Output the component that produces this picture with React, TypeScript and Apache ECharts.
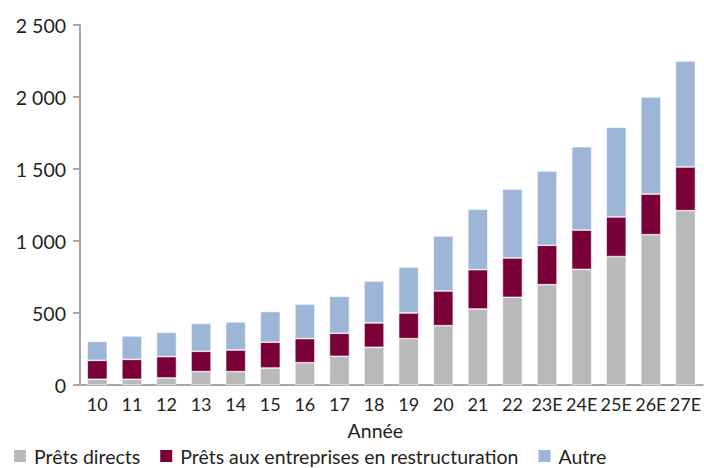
import React, { useEffect, useRef } from "react";
import * as echarts from "echarts";

const categories = ["10", "11", "12", "13", "14", "15", "16", "17", "18", "19", "20", "21", "22", "23E", "24E", "25E", "26E", "27E"];
const pretsDirects = [40, 40, 49, 93, 93, 118, 155, 199, 262, 322, 412, 528, 609, 697, 803, 892, 1044, 1211];
const pretsRestructuration = [131, 138, 148, 141, 150, 179, 167, 160, 169, 178, 241, 273, 273, 273, 273, 275, 282, 303];
const autre = [132, 162, 169, 194, 195, 213, 240, 257, 291, 319, 382, 419, 479, 516, 579, 623, 674, 736];
const yTicks = [0, 500, 1000, 1500, 2000, 2500];

const FONT = "Lato";
const TEXT = "#231f20";

export default function App() {
  const ref = useRef<HTMLDivElement>(null);
  useEffect(() => {
    document.body.style.margin = "0";
    const chart = echarts.init(ref.current!, undefined, { renderer: "svg" });
    const barStyle = { borderColor: "#ffffff", borderWidth: 0.6 };
    chart.setOption({
      animation: false,
      textStyle: { fontFamily: FONT },
      grid: { left: 80, right: -1, top: 25, bottom: 83, containLabel: false },
      legend: {
        left: 12,
        top: 446,
        padding: 0,
        itemWidth: 14,
        itemHeight: 14,
        itemGap: 18,
        icon: "rect",
        textStyle: { fontFamily: FONT, fontSize: 19.5, color: TEXT, padding: [0, 0, 0, 2] },
        data: ["Prêts directs", "Prêts aux entreprises en restructuration", "Autre"],
      },
      xAxis: {
        type: "category",
        data: categories,
        name: "Année",
        nameLocation: "middle",
        nameGap: 35,
        nameTextStyle: { fontFamily: FONT, fontSize: 19.5, color: TEXT, verticalAlign: "top", padding: [0, 32, 0, 0] },
        axisLine: { lineStyle: { color: "#a6a6a6", width: 2 } },
        axisTick: { show: false },
        axisLabel: { interval: 0, margin: 10, fontFamily: FONT, fontSize: 18, color: TEXT },
      },
      yAxis: {
        type: "value",
        min: yTicks[0],
        max: yTicks[yTicks.length - 1],
        interval: 500,
        splitLine: { show: false },
        axisLine: { show: true, lineStyle: { color: "#a6a6a6", width: 2 } },
        axisTick: { show: true, length: 7, lineStyle: { color: "#a6a6a6", width: 2 } },
        axisLabel: {
          margin: 14,
          fontFamily: FONT,
          fontSize: 19.5,
          color: TEXT,
          formatter: (v: number) => String(v).replace(/\B(?=(\d{3})+(?!\d))/g, " "),
        },
      },
      series: [
        { name: "Prêts directs", type: "bar", stack: "t", data: pretsDirects, barWidth: 20, itemStyle: { color: "#b8b9b8", ...barStyle } },
        { name: "Prêts aux entreprises en restructuration", type: "bar", stack: "t", data: pretsRestructuration, barWidth: 20, itemStyle: { color: "#7a0038", ...barStyle } },
        { name: "Autre", type: "bar", stack: "t", data: autre, barWidth: 20, itemStyle: { color: "#9db6d8", ...barStyle } },
      ],
    });
    return () => chart.dispose();
  }, []);
  return <div ref={ref} style={{ width: 704, height: 468 }} />;
}
